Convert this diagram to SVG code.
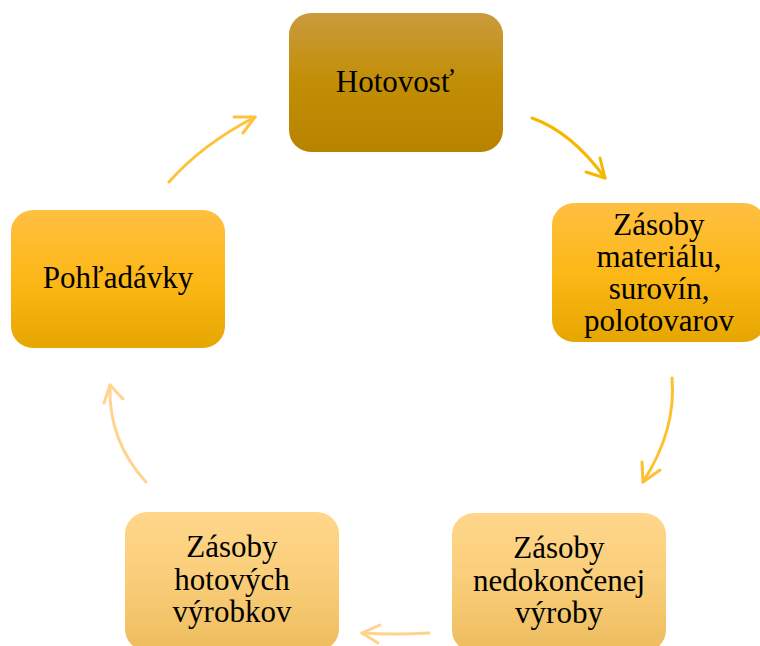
<svg xmlns="http://www.w3.org/2000/svg" width="760" height="646" viewBox="0 0 760 646">
<style>
.lbl{font-family:"Liberation Serif","Times New Roman",serif;font-size:31px;fill:#000;text-anchor:middle}
.ln{fill:none;stroke-width:3;stroke-linecap:round;stroke-linejoin:round}
</style>
<defs>
<linearGradient id="gDark" x1="0" y1="0" x2="0" y2="1">
<stop offset="0" stop-color="#C99B3E"/><stop offset="0.5" stop-color="#C28E05"/><stop offset="1" stop-color="#B88300"/>
</linearGradient>
<linearGradient id="gMid" x1="0" y1="0" x2="0" y2="1">
<stop offset="0" stop-color="#FFBF42"/><stop offset="0.5" stop-color="#FCB817"/><stop offset="1" stop-color="#E6A600"/>
</linearGradient>
<linearGradient id="gLight" x1="0" y1="0" x2="0" y2="1">
<stop offset="0" stop-color="#FFD68C"/><stop offset="0.5" stop-color="#F9CD78"/><stop offset="1" stop-color="#EDBC5E"/>
</linearGradient>
</defs>
<rect width="760" height="646" fill="#fff"/>
<g id="connectors">
<g id="c1"><path class="ln" stroke="#F5B800" d="M532,118 Q571.5,132 605,178"/><path class="ln" stroke="#F5B800" d="M600,158 L605,178 L586,172"/></g>
<g id="c2"><path class="ln" stroke="#FFC030" d="M672,378 Q676.5,430 643,482"/><path class="ln" stroke="#FFC030" d="M642,462 L643,482 L660,470"/></g>
<g id="c3"><path class="ln" stroke="#FFD38C" d="M429,633 Q395.5,635 362,633"/><path class="ln" stroke="#FFD38C" d="M380,625 L362,633 L378,643"/></g>
<g id="c4"><path class="ln" stroke="#FFD490" d="M146,482 Q108,440.5 110,385"/><path class="ln" stroke="#FFD490" d="M104,403 L110,385 L123,399"/></g>
<g id="c5"><path class="ln" stroke="#FFC23C" d="M169,182 Q202,144.5 255,117"/><path class="ln" stroke="#FFC23C" d="M234,117 L255,117 L243,133"/></g>
</g>
<g id="n-hotovost">
<rect x="289" y="13" width="214" height="139" rx="22" fill="url(#gDark)"/>
<text class="lbl" x="395" y="92">Hotovosť</text>
</g>
<g id="n-material">
<rect x="552" y="203" width="214" height="139" rx="22" fill="url(#gMid)"/>
<text class="lbl" x="659"><tspan x="659" y="234.5">Zásoby</tspan><tspan x="659" y="266.8">materiálu,</tspan><tspan x="659" y="299.1">surovín,</tspan><tspan x="659" y="331.4">polotovarov</tspan></text>
</g>
<g id="n-nedokoncena">
<rect x="452" y="513" width="214" height="139" rx="22" fill="url(#gLight)"/>
<text class="lbl" x="559"><tspan x="559" y="558.3">Zásoby</tspan><tspan x="559" y="590.6">nedokončenej</tspan><tspan x="559" y="622.9">výroby</tspan></text>
</g>
<g id="n-hotove">
<rect x="125" y="512" width="214" height="139" rx="22" fill="url(#gLight)"/>
<text class="lbl" x="232"><tspan x="232" y="557.3">Zásoby</tspan><tspan x="232" y="589.6">hotových</tspan><tspan x="232" y="621.9">výrobkov</tspan></text>
</g>
<g id="n-pohladavky">
<rect x="11" y="210" width="214" height="138" rx="22" fill="url(#gMid)"/>
<text class="lbl" x="118" y="288">Pohľadávky</text>
</g>
</svg>
